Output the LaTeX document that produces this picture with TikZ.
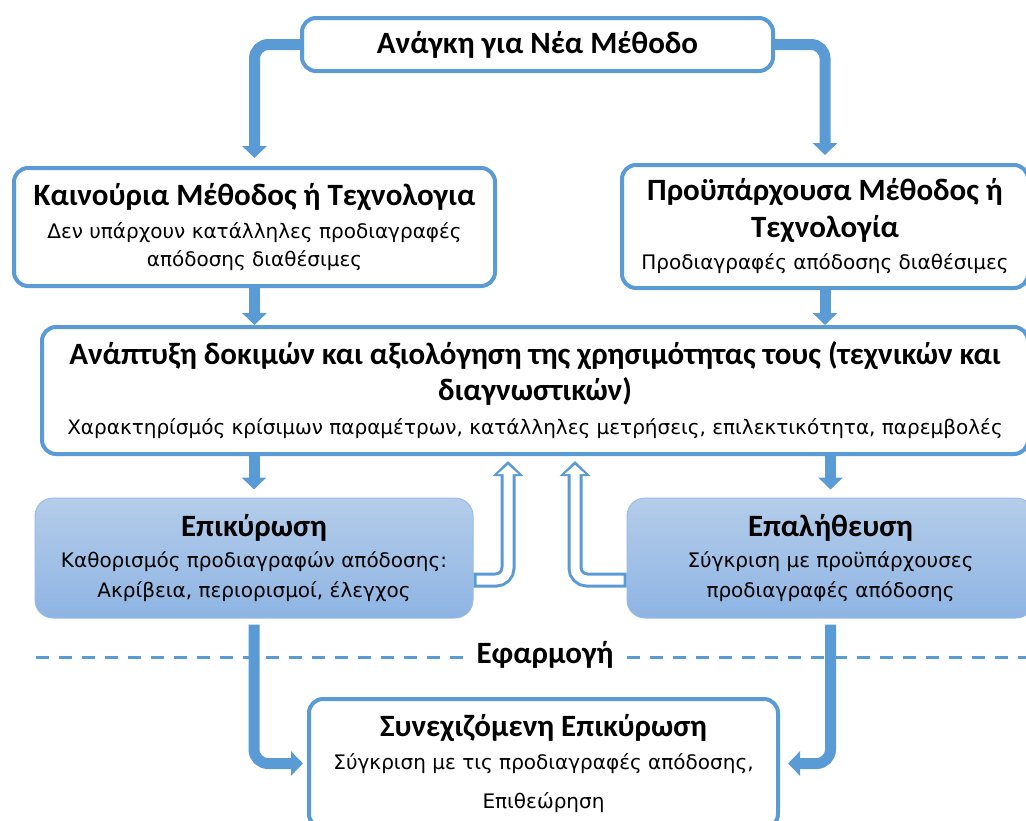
\documentclass[tikz,border=0pt]{standalone}
\usepackage{fontspec}
\setmainfont{Carlito}
\newfontfamily\subfont{DejaVu Sans}
\usetikzlibrary{arrows.meta, positioning}

\definecolor{flowblue}{HTML}{5B9BD5}
\definecolor{boxtop}{HTML}{B4CDEA}
\definecolor{boxbot}{HTML}{8EB4E3}

\newcommand{\ttl}{\rmfamily\fontsize{31}{35}\selectfont\bfseries}
\newcommand{\subtx}{\subfont\fontsize{20}{28}\selectfont}

\tikzset{
  whitebox/.style={draw=flowblue, line width=4pt, rounded corners=14pt, fill=white, align=center, inner sep=0pt, font=\subtx},
  bluebox/.style={draw=boxbot!90!white, line width=1pt, rounded corners=18pt, top color=boxtop, bottom color=boxbot, align=center, inner sep=0pt, font=\subtx},
  flow/.style={draw=flowblue, line width=11pt, rounded corners=14pt, -{Triangle[length=12pt,width=24pt]}},
  hollowout/.style={draw=flowblue, line width=15pt, rounded corners=12pt, -{Triangle[length=15pt,width=30pt]}},
  hollowin/.style={draw=white, line width=9pt, rounded corners=12pt, shorten >=4pt, -{Triangle[length=9pt,width=20pt]}},
  sepline/.style={draw=flowblue, line width=3pt, dash pattern=on 13pt off 10pt}
}

\begin{document}
\begin{tikzpicture}[x=1pt, y=-1pt]
  \useasboundingbox (0,0) rectangle (1026,820);

  % boxes
  \node[whitebox, minimum width=471, minimum height=53] (need) at (537.5,44.5)
    {{\ttl Ανάγκη για Νέα Μέθοδο}};
  \node[whitebox, minimum width=481, minimum height=118] (new) at (254.5,227)
    {{\ttl Καινούρια Μέθοδος ή Τεχνολογια}\\[5pt]
     Δεν υπάρχουν κατάλληλες προδιαγραφές\\ απόδοσης διαθέσιμες};
  \node[whitebox, minimum width=406, minimum height=123] (exist) at (825,226.5)
    {{\ttl Προϋπάρχουσα Μέθοδος ή}\\[9pt] {\ttl Τεχνολογία}\\[4pt]
     Προδιαγραφές απόδοσης διαθέσιμες};
  \node[whitebox, minimum width=986, minimum height=127] (dev) at (535,390.5)
    {{\ttl Ανάπτυξη δοκιμών και αξιολόγηση της χρησιμότητας τους (τεχνικών και}\\[7pt]
     {\ttl διαγνωστικών)}\\[6pt]
     Χαρακτηρίσμός κρίσιμων παραμέτρων, κατάλληλες μετρήσεις, επιλεκτικότητα, παρεμβολές};
  \node[bluebox, minimum width=438, minimum height=120] (valid) at (254,558)
    {{\ttl Επικύρωση}\\[3pt]
     Καθορισμός προδιαγραφών απόδοσης:\\[2pt] Ακρίβεια, περιορισμοί, έλεγχος};
  \node[bluebox, minimum width=407, minimum height=120] (verif) at (830.5,558)
    {{\ttl Επαλήθευση}\\[3pt]
     Σύγκριση με προϋπάρχουσες\\[2pt] προδιαγραφές απόδοσης};
  \node[whitebox, minimum width=469, minimum height=129] (ongoing) at (543.5,763.5)
    {{\ttl Συνεχιζόμενη Επικύρωση}\\[5pt]
     Σύγκριση με τις προδιαγραφές απόδοσης,\\[11pt] Επιθεώρηση};

  % application line
  \coordinate (dashL) at (36,657);
  \coordinate (dashR) at (1030,657);
  \node[inner xsep=13pt, inner ysep=4pt] (apply) at (545,655) {\ttl Εφαρμογή};
  \draw[sepline] (dashL) -- (dashL -| apply.west);
  \draw[sepline] (dashR -| apply.east) -- (dashR);

  % arrows
  \draw[flow] (need.west) -| ([yshift=8pt]new.north);
  \draw[flow] (need.east) -| ([yshift=8pt]exist.north);
  \draw[flow] (new.south) -- (new.south |- dev.north);
  \draw[flow] (exist.south) -- (exist.south |- dev.north);
  \draw[flow] (dev.south -| valid.north) -- ([yshift=8pt]valid.north);
  \draw[flow] (dev.south -| verif.north) -- ([yshift=8pt]verif.north);
  \draw[flow] ([yshift=-6pt]valid.south) |- ([xshift=-4pt]ongoing.west);
  \draw[flow] ([yshift=-6pt]verif.south) |- ([xshift=8pt]ongoing.east);

  % feedback
  \draw[hollowout] ([yshift=-22pt]valid.east) -| ([xshift=-27pt,yshift=-5pt]dev.south);
  \draw[hollowin] ([xshift=3pt,yshift=-22pt]valid.east) -| ([xshift=-27pt,yshift=-5pt]dev.south);
  \draw[hollowout] ([yshift=-22pt]verif.west) -| ([xshift=40pt,yshift=-5pt]dev.south);
  \draw[hollowin] ([xshift=-3pt,yshift=-22pt]verif.west) -| ([xshift=40pt,yshift=-5pt]dev.south);
\end{tikzpicture}
\end{document}
